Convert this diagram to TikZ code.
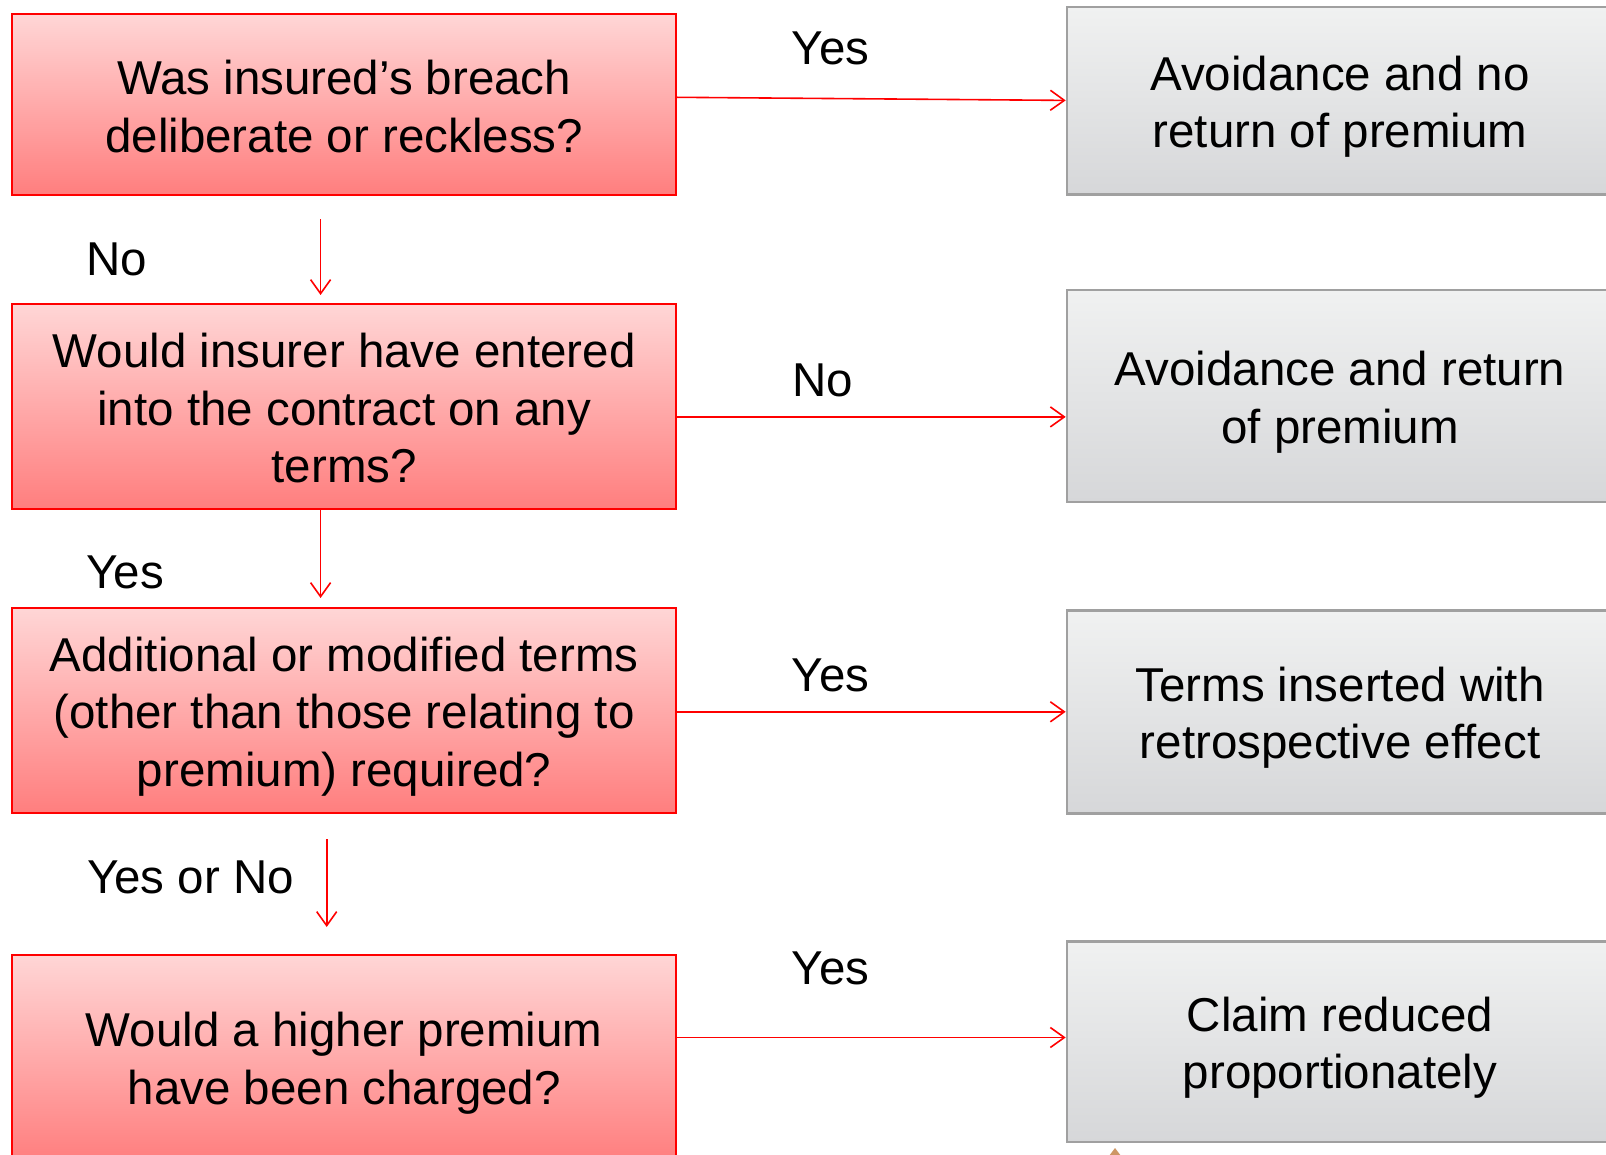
\documentclass[tikz,border=0pt]{standalone}
\usepackage{fontspec}
\setmainfont{Liberation Sans}
\usetikzlibrary{arrows.meta,calc}
\definecolor{rbTop}{RGB}{255,214,214}
\definecolor{rbBot}{RGB}{255,126,126}
\definecolor{gTop}{RGB}{240,241,241}
\definecolor{gBot}{RGB}{214,215,217}
\definecolor{boxgray}{RGB}{160,160,160}
\definecolor{tanmark}{RGB}{205,150,100}
\newcommand\mainfnt{\fontsize{23.75pt}{28.7pt}\selectfont}
\tikzset{
 qbox/.style={draw=red, line width=1pt, top color=rbTop, bottom color=rbBot, minimum width=331.9pt, inner sep=0pt},
 abox/.style={draw=boxgray, line width=1.3pt, top color=gTop, bottom color=gBot, minimum width=273pt, inner sep=0pt},
 btext/.style={inner sep=0pt, align=center, font=\mainfnt},
 arr/.style={draw=red, line width=0.8pt, -{Straight Barb[length=7pt,width=10pt]}},
 lbl/.style={font=\mainfnt, inner sep=0pt}
}
\begin{document}
\begin{tikzpicture}[x=0.5pt,y=-0.5pt]
\clip (0,0) rectangle (1606,1155);
\fill[white] (0,0) rectangle (1606,1155);
% question boxes
\node[qbox, minimum height=90.2pt] (q1) at (344.2,104.5) {};
\node[qbox, minimum height=102.5pt] (q2) at (344.2,406.5) {};
\node[qbox, minimum height=102.5pt] (q3) at (344.2,710.5) {};
\node[qbox, minimum height=103.5pt] (q4) at (344.2,1058) {};
\node[btext] (q1t) at ($(q1)+(0,2)$) {Was insured’s breach\\deliberate or reckless?};
\node[btext] (q2t) at ($(q2)+(0,1.8)$) {Would insurer have entered\\into the contract on any\\terms?};
\node[btext] (q3t) at ($(q3)+(0,6.1)$) {Additional or modified terms\\(other than those relating to\\premium) required?};
\node[btext] (q4t) at ($(q4)+(0,5.1)$) {Would a higher premium\\have been charged?};
% answer boxes
\node[abox, minimum height=93.7pt] (g1) at (1340,100.9) {};
\node[abox, minimum height=106pt] (g2) at (1340,396) {};
\node[abox, minimum height=101.4pt] (g3) at (1340,711.8) {};
\node[abox, minimum height=100.4pt] (g4) at (1340,1041.6) {};
\node[btext] (g1t) at ($(g1)+(0,6.1)$) {Avoidance and no\\return of premium};
\node[btext] (g2t) at ($(g2)+(0,6.1)$) {Avoidance and return\\of premium};
\node[btext] (g3t) at ($(g3)+(0,6.1)$) {Terms inserted with\\retrospective effect};
\node[btext] (g4t) at ($(g4)+(0,6.1)$) {Claim reduced\\proportionately};
% horizontal arrows
\draw[arr] ($(q1.east)+(0,-7.2)$) -- ($(g1.west)+(0,-0.5)$);
\draw[arr] ($(q2.east)+(0,10.4)$) -- ($(g2.west)+(0,20.9)$);
\draw[arr] ($(q3.east)+(0,1.3)$) -- (g3.west);
\draw[arr] ($(q4.east)+(0,-20.5)$) -- ($(g4.west)+(0,-4.1)$);
% vertical arrows
\draw[arr] ($(q1.south)+(-23.6,23.4)$) -- ($(q2.north)+(-23.6,-8)$);
\draw[arr] ($(q2.south)+(-23.6,0)$) -- ($(q3.north)+(-23.6,-9)$);
\draw[arr] ($(q3.south)+(-17.5,25)$) -- ($(q4.north)+(-17.5,-26.5)$);
% labels
\node[lbl] (l1) at (830.6,48.1) {Yes};
\node[lbl] (l2) at (116.8,259.1) {No};
\node[lbl] (l3) at (822.4,380) {No};
\node[lbl] (l4) at (125,572.5) {Yes};
\node[lbl] (l5) at (830.6,675) {Yes};
\node[lbl] (l6) at (190.5,877.7) {Yes or No};
\node[lbl] (l7) at (830.6,967.9) {Yes};
% small mark at bottom
\fill[tanmark] (1109,1156) -- (1115,1148) -- (1121,1156) -- cycle;
\end{tikzpicture}
\end{document}
